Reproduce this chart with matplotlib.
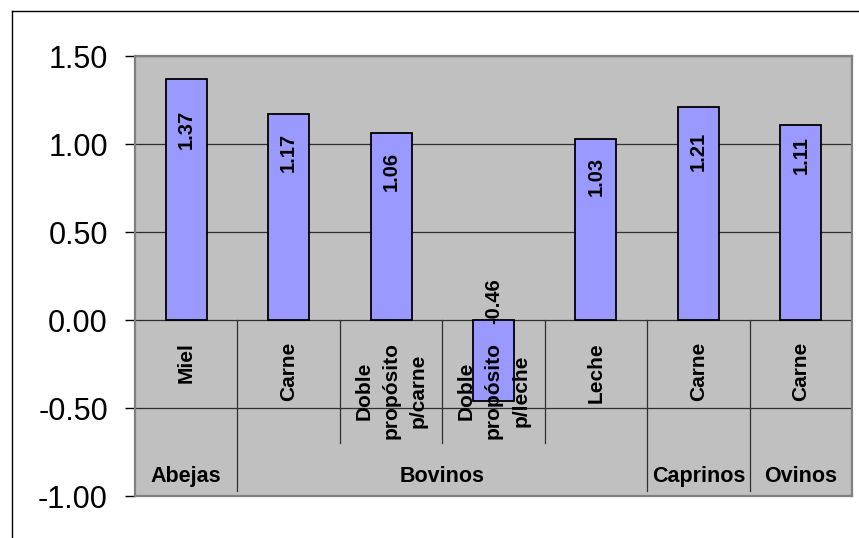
import matplotlib.pyplot as plt
from matplotlib.lines import Line2D
import numpy as np

plt.rcParams['font.family'] = ['Liberation Sans', 'DejaVu Sans']
plt.rcParams['axes.unicode_minus'] = False

groups = ['Abejas', 'Bovinos', 'Caprinos', 'Ovinos']
group_sizes = [1, 4, 1, 1]
categories = ['Miel', 'Carne', 'Doble\npropósito\np/carne',
              'Doble\npropósito\np/leche', 'Leche', 'Carne', 'Carne']
values = [1.37, 1.17, 1.06, -0.46, 1.03, 1.21, 1.11]
yticks = [1.50, 1.00, 0.50, 0.00, -0.50, -1.00]

# where each value label sits along its bar (pixels from the bar end)
label_shift = [-50, -38, -38, 19, -38, -44, -30]


def main():
    fig = plt.figure(figsize=(8.59, 5.38), dpi=100)
    ax = fig.add_axes([135 / 859, 1 - 496 / 538, 717 / 859, 440 / 538])
    ax.set_facecolor('#C0C0C0')

    x = np.arange(len(values))
    ax.bar(x, values, width=0.4, color='#9999FF', edgecolor='black',
           linewidth=1.3, zorder=3)

    for xi, v, sh in zip(x, values, label_shift):
        anchor = v if v > 0 else 0
        ax.annotate(f'{v:.2f}', xy=(xi, anchor), xytext=(0, sh),
                    textcoords='offset pixels', rotation=90,
                    ha='center', va='center', fontsize=14.5,
                    fontweight='bold', zorder=4)

    ax.set_xlim(-0.5, len(values) - 0.5)
    ax.set_ylim(-1.0, 1.5)
    ax.set_yticks(yticks)
    ax.set_yticklabels([f'{t:.2f}' for t in yticks], fontsize=22)
    ax.tick_params(axis='y', length=7.5, width=1, pad=12, color='black')
    ax.set_xticks([])
    ax.yaxis.grid(True, color='#303030', linewidth=0.9)
    ax.set_axisbelow(True)
    for sp in ax.spines.values():
        sp.set_color('#808080')
        sp.set_linewidth(1.6)

    # category dividers: long ones between groups, short ones inside a group
    bounds = np.cumsum(group_sizes)[:-1] - 0.5
    for b in np.arange(len(values) - 1) + 0.5:
        low = -0.97 if b in bounds else -0.70
        ax.plot([b, b], [0, low], color='#303030', linewidth=0.9, zorder=2)

    for xi, cat in zip(x, categories):
        ax.text(xi, -0.125, cat, rotation=90, ha='center', va='top',
                multialignment='center', fontsize=15, fontweight='bold',
                linespacing=1.55, zorder=5)

    start = 0
    for g, n in zip(groups, group_sizes):
        ax.text(start + (n - 1) / 2, -0.92, g, ha='center', va='baseline',
                fontsize=15.5, fontweight='bold')
        start += n

    # outer chart frame
    fx = 12 / 859
    fy = 1 - 11 / 538
    fig.add_artist(Line2D([fx, fx], [0, fy], transform=fig.transFigure,
                          color='black', linewidth=1))
    fig.add_artist(Line2D([fx, 1], [fy, fy], transform=fig.transFigure,
                          color='black', linewidth=1))

    fig.savefig('out.png', dpi=100)


if __name__ == '__main__':
    main()
